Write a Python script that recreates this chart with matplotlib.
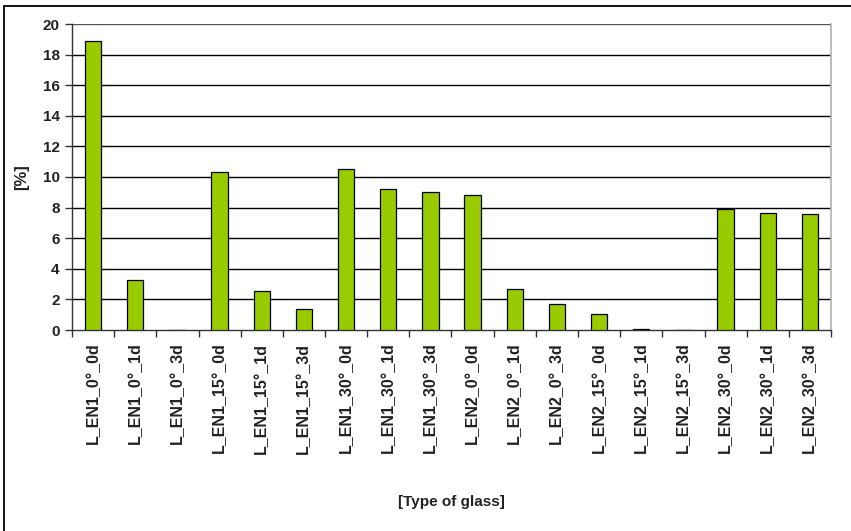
import matplotlib
matplotlib.use("Agg")
import matplotlib.pyplot as plt
from matplotlib.patches import Rectangle

plt.rcParams["font.family"] = ["Liberation Sans", "DejaVu Sans"]
plt.rcParams["font.weight"] = "bold"

glass_types = [
    "L_EN1_0°_0d", "L_EN1_0°_1d", "L_EN1_0°_3d",
    "L_EN1_15°_0d", "L_EN1_15°_1d", "L_EN1_15°_3d",
    "L_EN1_30°_0d", "L_EN1_30°_1d", "L_EN1_30°_3d",
    "L_EN2_0°_0d", "L_EN2_0°_1d", "L_EN2_0°_3d",
    "L_EN2_15°_0d", "L_EN2_15°_1d", "L_EN2_15°_3d",
    "L_EN2_30°_0d", "L_EN2_30°_1d", "L_EN2_30°_3d",
]
percent = [
    18.9, 3.3, 0.0,
    10.35, 2.55, 1.4,
    10.5, 9.2, 9.05,
    8.8, 2.65, 1.7,
    1.05, 0.08, 0.0,
    7.9, 7.63, 7.56,
]
y_ticks = list(range(0, 21, 2))

TEXT = "#222222"

fig = plt.figure(figsize=(8.51, 5.31), dpi=100)
W, H = 851, 531
ax = fig.add_axes([72 / W, 1 - 330 / H, (831 - 72) / W, (330 - 24) / H])

# chart frame: only its top and left edges fall inside the image
fig.patches.append(Rectangle((4 / W, -0.1), 1.2, 1.1 - 6 / H,
                             transform=fig.transFigure, fill=False,
                             edgecolor="black", linewidth=1.3))

x = list(range(len(glass_types)))
ax.bar(x, percent, width=0.39, color="#99CC00", edgecolor="black",
       linewidth=0.9, zorder=3)

ax.set_xlim(-0.5, len(glass_types) - 0.5)
ax.set_ylim(0, 20)
ax.set_yticks(y_ticks)
ax.set_yticklabels([str(v) for v in y_ticks], fontsize=11, fontweight="bold",
                   color=TEXT)

for v in y_ticks[1:]:
    ax.axhline(v, color="#555555" if v == 20 else "black", linewidth=1.0,
               zorder=1)

# category ticks sit between the bars
ax.set_xticks([i - 0.5 for i in range(len(glass_types) + 1)], minor=False)
ax.set_xticklabels([])
ax.set_xticks(x, minor=True)
ax.set_xticklabels(glass_types, minor=True, rotation=90, fontsize=11.5,
                   fontweight="bold", color=TEXT)
ax.tick_params(axis="x", which="major", length=5, width=1.0, direction="out",
               color="#333333")
ax.tick_params(axis="x", which="minor", length=0, pad=9)
ax.tick_params(axis="y", length=5, width=1.0, direction="out", pad=4,
               color="#333333")

ax.spines["top"].set_visible(False)
ax.spines["right"].set_color("#b0b0b0")
ax.spines["right"].set_linewidth(1.2)
ax.spines["left"].set_color("#333333")
ax.spines["bottom"].set_color("#333333")
ax.spines["left"].set_linewidth(1.0)
ax.spines["bottom"].set_linewidth(1.0)

fig.text(451 / W, 1 - 502 / H, "[Type of glass]", ha="center", va="center",
         fontsize=11, fontweight="bold", color=TEXT)
fig.text(22 / W, 1 - 177 / H, "[%]", ha="center", va="center", rotation=90,
         fontsize=12, fontweight="bold", color=TEXT)

fig.savefig("out.png", dpi=100)
